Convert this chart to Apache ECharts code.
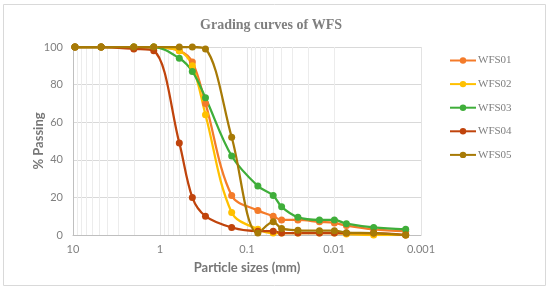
<!DOCTYPE html>
<html>
<head>
<meta charset="utf-8">
<script src="https://cdn.jsdelivr.net/npm/echarts@6/dist/echarts.min.js"></script>
<style>
    html, body { margin: 0; padding: 0; background: #fff; }
    #chart { width: 550px; height: 290px; }
</style>
</head>
<body>
<div id="chart"></div>
<script>
    // sieve + hydrometer particle sizes (mm)
    const sizes = [9.5, 4.75, 2, 1.18, 0.6, 0.425, 0.3, 0.15, 0.075, 0.05, 0.04, 0.026, 0.0147, 0.0099, 0.0072, 0.0035, 0.0015]
    const wfs01 = [100, 100, 100, 100, 98, 92, 70, 21, 13, 10, 8, 8, 7, 6.4, 5, 3, 2]
    const wfs02 = [100, 100, 100, 100, 98, 90, 64, 12, 3, 1, 1, 1, 1, 1, 0.5, 0, 0]
    const wfs03 = [100, 100, 100, 100, 94, 87, 73, 42, 26, 21, 15, 9.5, 8, 8, 6, 4, 3]
    const wfs04 = [100, 100, 99, 98, 49, 20, 10, 4, 2, 2, 1, 1, 1, 1, 1, 1, 0]
    const wfs05 = [100, 100, 100, 100, 100, 100, 99, 52, 1, 7, 3.5, 2.5, 2.3, 2.3, 1.2, 1, 0]
    const names = ['WFS01', 'WFS02', 'WFS03', 'WFS04', 'WFS05']
    const colors = ['#f47b2a', '#ffc000', '#3fae3a', '#c0440c', '#a77a06']

    // minor log gridlines
    const decades = [0.001, 0.01, 0.1, 1]
    const minorSteps = [2, 3, 4, 5, 6, 7, 8, 9]

    const chart = echarts.init(document.getElementById('chart'))

    const minorLines = []
    decades.forEach(d => minorSteps.forEach(k => minorLines.push({ xAxis: +(d * k).toPrecision(3) })))

    const series = [wfs01, wfs02, wfs03, wfs04, wfs05].map((vals, i) => ({
        name: names[i],
        type: 'line',
        data: sizes.map((s, j) => [s, vals[j]]),
        smooth: 0.35,
        symbol: 'circle',
        symbolSize: 7,
        lineStyle: { width: 2.25, color: colors[i] },
        itemStyle: { color: colors[i] },
        animation: false
    }))
    series[0].markLine = {
        silent: true,
        symbol: 'none',
        label: { show: false },
        lineStyle: { color: '#ececec', width: 1, type: 'solid' },
        z: 0,
        data: minorLines,
        animation: false
    }

    chart.setOption({
        animation: false,
        color: colors,
        title: {
            text: 'Grading curves of WFS',
            left: 266,
            textAlign: 'center',
            top: 13,
            textStyle: {
                fontFamily: 'Liberation Serif',
                fontWeight: 'bold',
                fontSize: 14,
                color: '#7f7f7f'
            }
        },
        graphic: [{
            type: 'rect',
            shape: { x: 3.5, y: 4.5, width: 542, height: 281 },
            style: { fill: 'none', stroke: '#d9d9d9', lineWidth: 1 },
            silent: true
        }],
        legend: {
            orient: 'vertical',
            left: 444,
            top: 50,
            itemWidth: 26,
            itemHeight: 8,
            itemGap: 12.6,
            data: names,
            textStyle: {
                fontFamily: 'Liberation Serif',
                fontSize: 11,
                color: '#7f7f7f',
                padding: [0, 0, 0, -3]
            }
        },
        grid: {
            left: 73,
            right: 129,
            top: 47,
            bottom: 55
        },
        xAxis: {
            type: 'log',
            logBase: 10,
            min: 0.001,
            max: 10,
            inverse: true,
            name: 'Particle sizes (mm)',
            nameLocation: 'middle',
            nameGap: 26,
            nameMoveOverlap: false,
            nameTextStyle: {
                fontFamily: 'Lato',
                fontWeight: 'bold',
                fontSize: 13,
                color: '#767676'
            },
            axisLine: { show: true, lineStyle: { color: '#bfbfbf' } },
            axisTick: { show: false },
            axisLabel: {
                margin: 9,
                fontFamily: 'Lato',
                fontSize: 11,
                color: '#808080',
                formatter: v => String(+(+v).toPrecision(1))
            },
            splitLine: { show: true, lineStyle: { color: '#e3e3e3' } }
        },
        yAxis: {
            type: 'value',
            min: 0,
            max: 100,
            interval: 20,
            name: '% Passing',
            nameLocation: 'middle',
            nameGap: 28,
            nameMoveOverlap: false,
            nameTextStyle: {
                fontFamily: 'Lato',
                fontWeight: 'bold',
                fontSize: 13,
                color: '#767676'
            },
            axisLine: { show: true, lineStyle: { color: '#bfbfbf' } },
            axisTick: { show: false },
            axisLabel: {
                margin: 10,
                fontFamily: 'Lato',
                fontSize: 11,
                color: '#808080'
            },
            splitLine: { show: true, lineStyle: { color: '#d9d9d9' } }
        },
        series: series
    })
</script>
</body>
</html>
